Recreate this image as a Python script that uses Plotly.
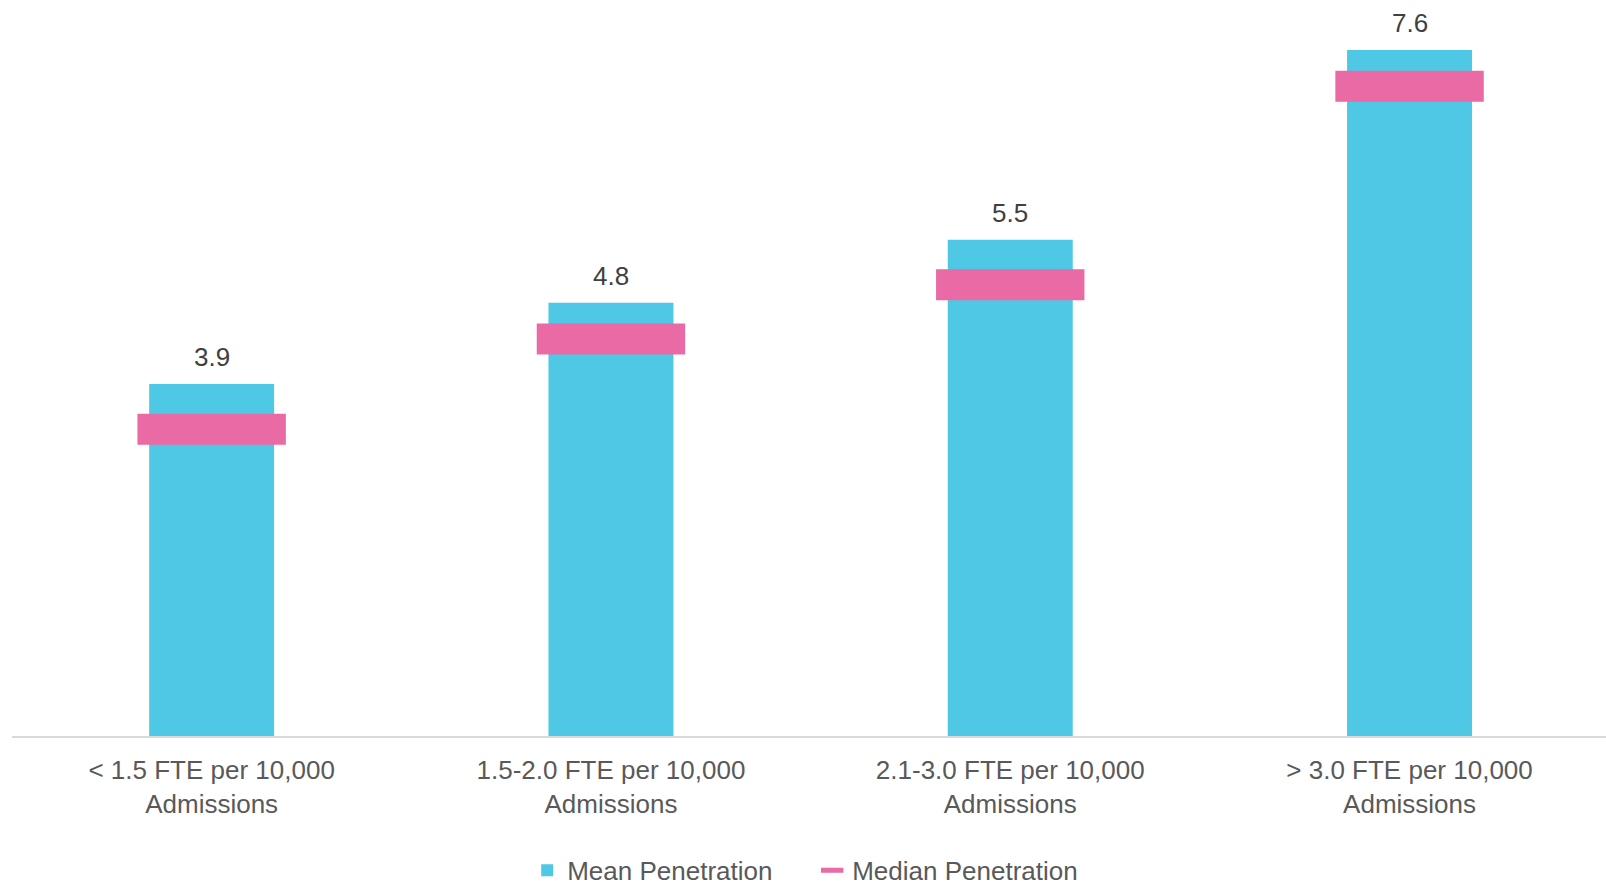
import plotly.graph_objects as go

# Penetration by staffing level
categories = [
    "< 1.5 FTE per 10,000<br>Admissions",
    "1.5-2.0 FTE per 10,000<br>Admissions",
    "2.1-3.0 FTE per 10,000<br>Admissions",
    "> 3.0 FTE per 10,000<br>Admissions",
]
mean_penetration = [3.9, 4.8, 5.5, 7.6]
median_penetration = [3.4, 4.4, 5.0, 7.2]

CYAN = "#4FC8E5"
PINK = "#E96AA5"
FONT = "Liberation Sans, Arial, sans-serif"

fig = go.Figure()

fig.add_trace(go.Bar(
    x=categories,
    y=mean_penetration,
    name="Mean Penetration",
    marker=dict(color=CYAN, line=dict(width=0)),
    width=0.313,
    hoverinfo="skip",
))

# median shown as a thick horizontal dash across each bar
fig.add_trace(go.Scatter(
    x=categories,
    y=median_penetration,
    name="Median Penetration",
    mode="markers",
    marker=dict(symbol="line-ew", size=106, color=PINK,
                line=dict(color=PINK, width=31)),
    hoverinfo="skip",
))

# value labels above the mean bars
for cat, v in zip(categories, mean_penetration):
    fig.add_annotation(
        x=cat, y=v, text=f"{v:.1f}", showarrow=False,
        yanchor="bottom", yshift=10,
        font=dict(family=FONT, size=26, color="#404040"),
    )

fig.update_layout(
    width=1606, height=887,
    margin=dict(l=12, r=0, t=14, b=151, autoexpand=False),
    paper_bgcolor="white", plot_bgcolor="white",
    font=dict(family=FONT, size=26, color="#595959"),
    showlegend=True,
    legend=dict(
        orientation="h", x=0.502, xanchor="center",
        y=-0.186, yanchor="middle",
        entrywidth=240,
        font=dict(family=FONT, size=26, color="#595959"),
        itemclick=False, itemdoubleclick=False,
    ),
    xaxis=dict(
        range=[-0.5, 3.492],
        showline=True, linecolor="#D9D9D9", linewidth=2,
        ticks="", showgrid=False, zeroline=False,
        ticklabelstandoff=10,
        tickfont=dict(family=FONT, size=26, color="#595959"),
    ),
    yaxis=dict(
        range=[0, 8], visible=False, showgrid=False, zeroline=False,
    ),
)

fig.write_html("out.html")
